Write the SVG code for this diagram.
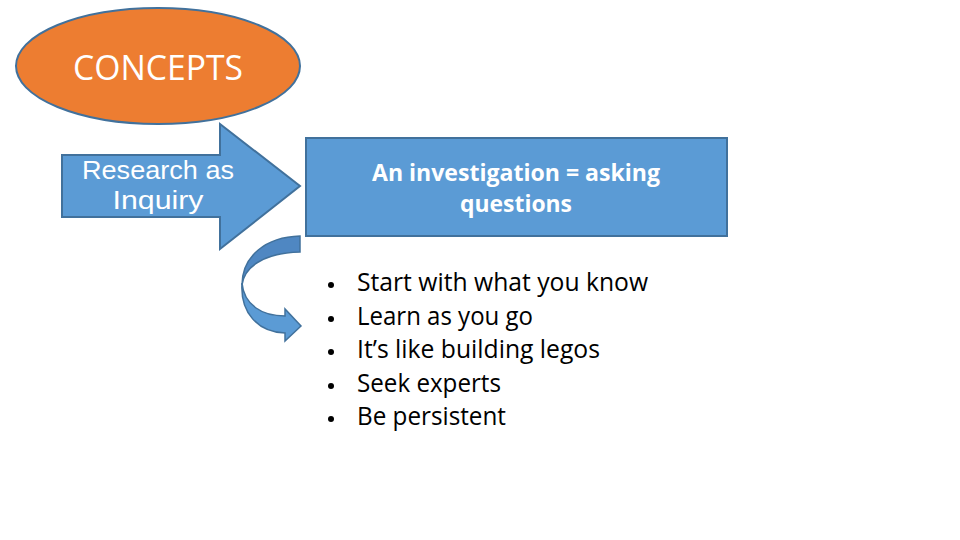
<svg xmlns="http://www.w3.org/2000/svg" width="960" height="540" viewBox="0 0 960 540">
<style>
.shape{fill:#5B9BD5;stroke:#41719C;stroke-width:2}
.wt{fill:#FFFFFF;font-family:"Open Sans","Liberation Sans",sans-serif;text-anchor:middle}
.ws{fill:#FFFFFF;font-family:"Liberation Sans",sans-serif;text-anchor:middle}
.bt{fill:#000000;font-family:"Open Sans","Liberation Sans",sans-serif;font-size:25px}
</style>
<rect width="960" height="540" fill="#FFFFFF"/>
<g id="concepts">
<ellipse cx="158" cy="66" rx="142" ry="58" fill="#ED7D31" stroke="#41719C" stroke-width="2"/>
<text class="wt" x="158" y="80" font-size="34" textLength="170" lengthAdjust="spacingAndGlyphs">CONCEPTS</text>
</g>
<g id="research">
<path class="shape" d="M62,155 L220,155 L220,124 L300,186 L220,249 L220,217 L62,217 Z"/>
<text class="ws" x="158" y="179" font-size="26" textLength="152" lengthAdjust="spacingAndGlyphs">Research as</text>
<text class="ws" x="158" y="209" font-size="26" textLength="91" lengthAdjust="spacingAndGlyphs">Inquiry</text>
</g>
<g id="investigation">
<rect class="shape" x="306" y="138" width="421" height="98"/>
<text class="wt" x="516" y="181" font-size="24" font-weight="bold" textLength="288" lengthAdjust="spacingAndGlyphs">An investigation = asking</text>
<text class="wt" x="516" y="212" font-size="24" font-weight="bold" textLength="112" lengthAdjust="spacingAndGlyphs">questions</text>
</g>
<g id="connectors">
<path d="M300,236 C266,237 242,256 242,285 C244,268 262,253 300,252 Z" fill="#4F87C2" stroke="#41719C" stroke-width="1.5"/>
<path d="M242,283 C244,305 262,316 285,316 L285,309 L301,326 L285,341 L285,333 C258,332 240,313 242,283 Z" fill="#5B9BD5" stroke="#41719C" stroke-width="1.5"/>
</g>
<g id="bullets">
<g fill="#000000">
<circle cx="331" cy="285" r="3"/>
<circle cx="331" cy="319" r="3"/>
<circle cx="331" cy="352" r="3"/>
<circle cx="331" cy="386" r="3"/>
<circle cx="331" cy="419" r="3"/>
</g>
<text class="bt" x="357" y="291" textLength="291" lengthAdjust="spacingAndGlyphs">Start with what you know</text>
<text class="bt" x="357" y="325" textLength="176" lengthAdjust="spacingAndGlyphs">Learn as you go</text>
<text class="bt" x="357" y="358" textLength="243" lengthAdjust="spacingAndGlyphs">It’s like building legos</text>
<text class="bt" x="357" y="392" textLength="144" lengthAdjust="spacingAndGlyphs">Seek experts</text>
<text class="bt" x="357" y="425" textLength="149" lengthAdjust="spacingAndGlyphs">Be persistent</text>
</g>
</svg>
